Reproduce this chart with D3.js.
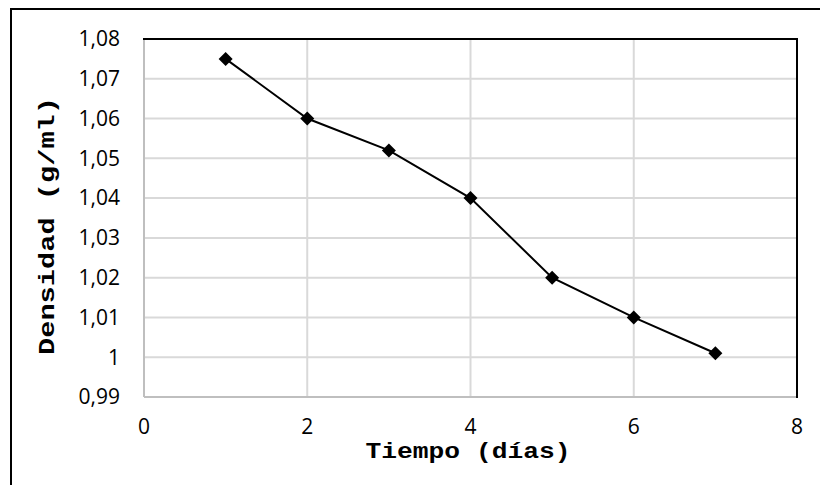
<!DOCTYPE html>
<html>
<head>
<meta charset="utf-8">
<script src="https://cdn.jsdelivr.net/npm/d3@7"></script>
<style>
  body { margin: 0; background: #fff; }
  svg { display: block; }
  .tick-label { font-family: "Open Sans", sans-serif; font-size: 21px; fill: #000; }
  .axis-title { font-family: "Liberation Mono", "Courier New", Cousine, monospace; font-weight: bold; font-size: 22px; fill: #000; }
</style>
</head>
<body>
<div id="chart"></div>
<script>
const days = [1, 2, 3, 4, 5, 6, 7];
const density = [1.075, 1.06, 1.052, 1.04, 1.02, 1.01, 1.001];
const xTicks = [0, 2, 4, 6, 8];
const yTicks = [0.99, 1.00, 1.01, 1.02, 1.03, 1.04, 1.05, 1.06, 1.07, 1.08];

const W = 820, H = 485;
const plot = { left: 144, top: 39, right: 797, bottom: 397 };

const svg = d3.select("#chart")
  .append("svg")
    .attr("width", W)
    .attr("height", H);

// outer frame, runs off the right and bottom edges
svg.append("rect")
  .attr("x", 11).attr("y", 9)
  .attr("width", W).attr("height", H)
  .attr("fill", "none")
  .attr("stroke", "#000")
  .attr("stroke-width", 2);

const x = d3.scaleLinear().domain([0, 8]).range([plot.left, plot.right]);
const y = d3.scaleLinear().domain([0.99, 1.08]).range([plot.bottom, plot.top]);

const fmt = v => v === 1 ? "1" : d3.format(".2f")(v).replace(".", ",");

// grid
svg.append("g")
  .selectAll("line")
  .data(yTicks.slice(1))
  .join("line")
    .attr("x1", plot.left).attr("x2", plot.right)
    .attr("y1", d => y(d)).attr("y2", d => y(d))
    .attr("stroke", "#d9d9d9").attr("stroke-width", 2);

svg.append("g")
  .selectAll("line")
  .data(xTicks.slice(1, -1))
  .join("line")
    .attr("x1", d => x(d)).attr("x2", d => x(d))
    .attr("y1", plot.top).attr("y2", plot.bottom)
    .attr("stroke", "#d9d9d9").attr("stroke-width", 2);

// axis lines (gray) and top/right border (black)
svg.append("line")
  .attr("x1", plot.left).attr("x2", plot.left)
  .attr("y1", plot.top).attr("y2", plot.bottom)
  .attr("stroke", "#bfbfbf").attr("stroke-width", 2);
svg.append("line")
  .attr("x1", plot.left).attr("x2", plot.right)
  .attr("y1", plot.bottom).attr("y2", plot.bottom)
  .attr("stroke", "#bfbfbf").attr("stroke-width", 2);
svg.append("path")
  .attr("d", `M${plot.left - 1},${plot.top}H${plot.right}V${plot.bottom + 1}`)
  .attr("fill", "none")
  .attr("stroke", "#000").attr("stroke-width", 2);

// tick labels
svg.append("g")
  .selectAll("text")
  .data(yTicks)
  .join("text")
    .attr("class", "tick-label")
    .attr("x", 120)
    .attr("y", d => y(d))
    .attr("dy", "0.35em")
    .attr("text-anchor", "end")
    .text(fmt);

svg.append("g")
  .selectAll("text")
  .data(xTicks)
  .join("text")
    .attr("class", "tick-label")
    .attr("x", d => x(d))
    .attr("y", 427)
    .attr("dy", "0.35em")
    .attr("text-anchor", "middle")
    .text(d => d);

// axis titles
svg.append("text")
  .attr("class", "axis-title")
  .attr("x", 468)
  .attr("y", 458)
  .attr("text-anchor", "middle")
  .attr("textLength", 205)
  .attr("lengthAdjust", "spacingAndGlyphs")
  .text("Tiempo (días)");

svg.append("text")
  .attr("class", "axis-title")
  .attr("transform", "translate(54,226) rotate(-90)")
  .attr("text-anchor", "middle")
  .attr("textLength", 258)
  .attr("lengthAdjust", "spacingAndGlyphs")
  .text("Densidad (g/ml)");

// series
const pts = days.map((d, i) => [x(d), y(density[i])]);

svg.append("path")
  .attr("d", d3.line()(pts))
  .attr("fill", "none")
  .attr("stroke", "#000")
  .attr("stroke-width", 2);

const r = 7;
svg.append("g")
  .selectAll("path")
  .data(pts)
  .join("path")
    .attr("d", p => `M${p[0]},${p[1] - r}L${p[0] + r},${p[1]}L${p[0]},${p[1] + r}L${p[0] - r},${p[1]}Z`)
    .attr("fill", "#000");
</script>
</body>
</html>
